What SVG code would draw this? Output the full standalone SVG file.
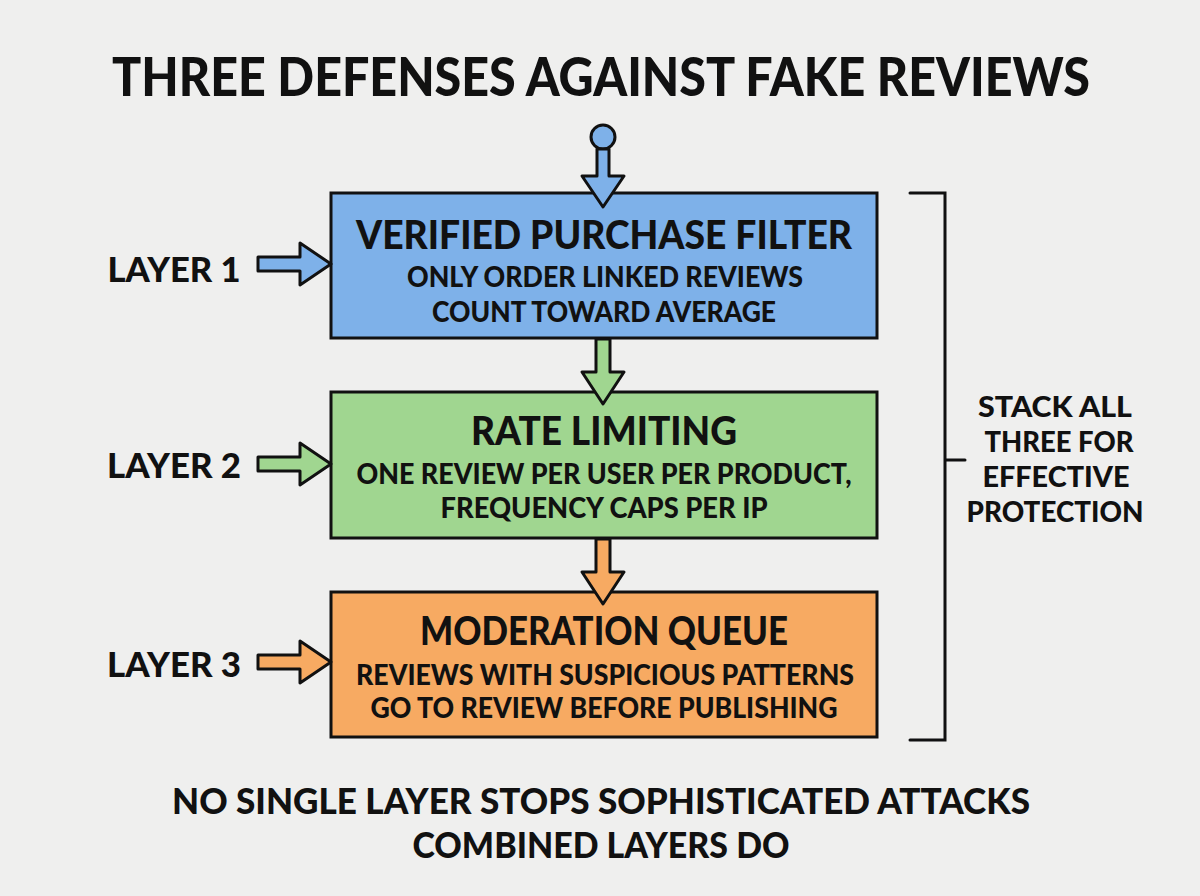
<svg xmlns="http://www.w3.org/2000/svg" width="1200" height="896" viewBox="0 0 1200 896">
  <style>
    .t { font-family: Lato, "Open Sans", "DejaVu Sans", sans-serif; font-weight: 900; fill: #111; text-anchor: middle; }
    .box { stroke: #111; stroke-width: 3; }
    .arr { stroke: #111; stroke-width: 3; stroke-linejoin: round; }
    .blue { fill: #7eb1e9; }
    .green { fill: #a0d690; }
    .orange { fill: #f7aa62; }
    .line { fill: none; stroke: #111; stroke-width: 3; stroke-linecap: round; }
  </style>
  <rect width="1200" height="896" fill="#efefee"/>

  <text class="t" x="601" y="96" font-size="53" textLength="978" lengthAdjust="spacingAndGlyphs">THREE DEFENSES AGAINST FAKE REVIEWS</text>

  <g id="layer1">
    <rect class="box blue" x="331" y="193" width="546" height="145"/>
    <text class="t" x="604" y="249" font-size="40" textLength="496" lengthAdjust="spacingAndGlyphs">VERIFIED PURCHASE FILTER</text>
    <text class="t" x="605" y="287" font-size="29" textLength="396" lengthAdjust="spacingAndGlyphs">ONLY ORDER LINKED REVIEWS</text>
    <text class="t" x="604" y="322" font-size="29" textLength="344" lengthAdjust="spacingAndGlyphs">COUNT TOWARD AVERAGE</text>
  </g>
  <g id="layer2">
    <rect class="box green" x="331" y="392" width="546" height="146"/>
    <text class="t" x="604" y="445" font-size="40" textLength="266" lengthAdjust="spacingAndGlyphs">RATE LIMITING</text>
    <text class="t" x="604" y="484" font-size="29" textLength="495" lengthAdjust="spacingAndGlyphs">ONE REVIEW PER USER PER PRODUCT,</text>
    <text class="t" x="604" y="518" font-size="29" textLength="327" lengthAdjust="spacingAndGlyphs">FREQUENCY CAPS PER IP</text>
  </g>
  <g id="layer3">
    <rect class="box orange" x="331" y="592" width="546" height="145"/>
    <text class="t" x="604" y="645" font-size="40" textLength="368" lengthAdjust="spacingAndGlyphs">MODERATION QUEUE</text>
    <text class="t" x="605" y="685" font-size="29" textLength="498" lengthAdjust="spacingAndGlyphs">REVIEWS WITH SUSPICIOUS PATTERNS</text>
    <text class="t" x="604" y="718" font-size="29" textLength="467" lengthAdjust="spacingAndGlyphs">GO TO REVIEW BEFORE PUBLISHING</text>
  </g>

  <g id="labels">
    <text class="t" x="174" y="282" font-size="35" textLength="133" lengthAdjust="spacingAndGlyphs">LAYER 1</text>
    <text class="t" x="174" y="478" font-size="35" textLength="134" lengthAdjust="spacingAndGlyphs">LAYER 2</text>
    <text class="t" x="174" y="677" font-size="35" textLength="134" lengthAdjust="spacingAndGlyphs">LAYER 3</text>
  </g>

  <g id="bracket">
    <path class="line" d="M910 193 H945 V740 H910 M945 460 H965"/>
    <text class="t" x="1055" y="417" font-size="29" textLength="154" lengthAdjust="spacingAndGlyphs">STACK ALL</text>
    <text class="t" x="1059" y="452" font-size="29" textLength="149" lengthAdjust="spacingAndGlyphs">THREE FOR</text>
    <text class="t" x="1056" y="487" font-size="29" textLength="147" lengthAdjust="spacingAndGlyphs">EFFECTIVE</text>
    <text class="t" x="1055" y="522" font-size="29" textLength="177" lengthAdjust="spacingAndGlyphs">PROTECTION</text>
  </g>

  <g id="connectors">
    <circle class="arr blue" cx="603" cy="137" r="12"/>
    <polygon class="arr blue" points="597,149 609,149 609,176 624,176 603,207 582,176 597,176"/>
    <polygon class="arr green" points="596,339 610,339 610,372 624,372 603,404 582,372 596,372"/>
    <polygon class="arr orange" points="596,539 610,539 610,572 624,572 603,604 582,572 596,572"/>
    <polygon class="arr blue" points="258,257 300,257 300,243 331,264 300,285 300,271 258,271"/>
    <polygon class="arr green" points="258,457 300,457 300,443 331,464 300,485 300,471 258,471"/>
    <polygon class="arr orange" points="258,655 300,655 300,641 331,662 300,683 300,669 258,669"/>
  </g>

  <g id="footer">
    <text class="t" x="601" y="814" font-size="36" textLength="858" lengthAdjust="spacingAndGlyphs">NO SINGLE LAYER STOPS SOPHISTICATED ATTACKS</text>
    <text class="t" x="601" y="858" font-size="36" textLength="377" lengthAdjust="spacingAndGlyphs">COMBINED LAYERS DO</text>
  </g>
</svg>
